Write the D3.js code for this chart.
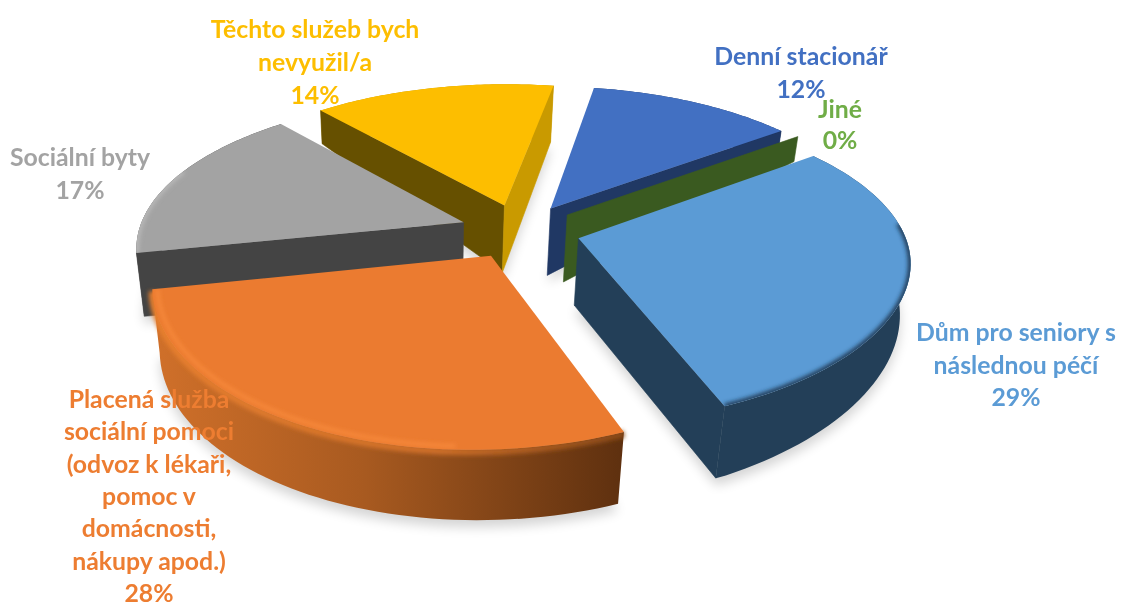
<!DOCTYPE html>
<html><head><meta charset="utf-8">
<script src="https://cdn.jsdelivr.net/npm/d3@7/dist/d3.min.js"></script>
<style>html,body{margin:0;padding:0;background:#fff;overflow:hidden}svg{display:block}text{font-family:Lato,"Open Sans",sans-serif;font-weight:700;font-size:24.8px;text-anchor:middle}</style>
</head><body><svg id="c" width="1121" height="608"></svg>
<script>
// --- data ---
const categories = ["Dům pro seniory s následnou péčí","Placená služba sociální pomoci (odvoz k lékaři, pomoc v domácnosti, nákupy apod.)","Sociální byty","Těchto služeb bych nevyužil/a","Denní stacionář","Jiné"];
const values = [29,28,17,14,12,0];
const labelLines = [["Dům pro seniory s","následnou péčí"],["Placená služba","sociální pomoci","(odvoz k lékaři,","pomoc v","domácnosti,","nákupy apod.)"],["Sociální byty"],["Těchto služeb bych","nevyužil/a"],["Denní stacionář"],["Jiné"]];
// --- styles ---
const topColors = ["#5B9BD5","#EB7B30","#A3A3A3","#FDBE00","#4270C2","#70AD47"];
const rimColors = ["#233F58","url(#orangeRim)","#444444","#C99A00","#203864","#3A5A20"];
const startWall = ["#233F58","#5f3310","#444444","#665000","#C99A00","#3A5A20"];
const endWall   = ["#233F58","#5f3310","#444444","#C99A00","#203864","#3A5A20"];
const bevels    = ["#1c3650","#f98c3c","#b9b9b9",null,null,null];
const bevelSpan = [[0.3,1],[0.25,1],[0,0.55],null,null,null];
const labelAnchors = [[1016,341],[149,408],[80,166],[315,38],[801,65],[840,118]];
const labelStep = [32.5,32.3,33,33,33,31];
// --- projection model ---
const cx=520, cy=231, R=325, k=0.451, persp=0.15, explode=0.185, apexDepth=67;
const frontShiftX=10, frontShiftY=9;
const rimDepth = d3.scaleLinear().domain([0,9,53,90,156,255,319,360]).range([51,57,25,50,72,65,33,51]);
const deg = r => ((r*180/Math.PI)%360+360)%360;
function project(X,Y,d){
  const s=1/(1-persp*Y), f=Math.max(Y,0)*Math.max(Y,0);
  const x=cx+R*X*s-frontShiftX*f, y=cy+R*k*Y*s+frontShiftY*f;
  return [x-(x-430)*0.00042*d, y+d];
}
const pie = d3.pie().sort(null).startAngle(53*Math.PI/180).endAngle(413*Math.PI/180);
const arcs = pie(values).map((a,i)=>({...a,i,mid:(a.startAngle+a.endAngle)/2}));
const line = d3.line();
const svg = d3.select("#c"), defs = svg.append("defs");
const g1=defs.append("linearGradient").attr("id","orangeRim");
g1.append("stop").attr("offset","0").attr("stop-color","#D0702A");
g1.append("stop").attr("offset","0.45").attr("stop-color","#A85A20");
g1.append("stop").attr("offset","1").attr("stop-color","#5E300F");
const g2=defs.append("linearGradient").attr("id","orangeLip");
g2.append("stop").attr("offset","0").attr("stop-color","#E8802F");
g2.append("stop").attr("offset","0.6").attr("stop-color","#D0702A");
g2.append("stop").attr("offset","1").attr("stop-color","#8A4A18");
[["b2",2],["b6",6]].forEach(([id,sd])=>defs.append("filter").attr("id",id).attr("x","-20%").attr("y","-20%").attr("width","140%").attr("height","140%").append("feGaussianBlur").attr("stdDeviation",sd));

function model(a){
  const ox=explode*Math.sin(a.mid), oy=-explode*Math.cos(a.mid);
  const pt=(t,r)=>[ox+r*Math.sin(t), oy-r*Math.cos(t)];
  const ts=d3.range(0,61).map(j=>a.startAngle+(a.endAngle-a.startAngle)*j/60);
  const top=ts.map(t=>{const p=pt(t,1);return project(p[0],p[1],0)});
  const bot=ts.map(t=>{const p=pt(t,1);return project(p[0],p[1],rimDepth(deg(t)))});
  const apexT=project(ox,oy,0), apexB=project(ox,oy,apexDepth);
  return {ox,oy,pt,ts,top,bot,apexT,apexB};
}
const order=arcs.slice().sort((p,q)=>(-Math.cos(p.mid))-(-Math.cos(q.mid)));
// shadows
const sh=svg.append("g").attr("filter","url(#b6)").attr("opacity",0.17);
order.forEach(a=>{const m=model(a);
  sh.append("path").attr("d",line([m.apexB,...m.bot])+"Z").attr("fill","#000").attr("transform","translate(0,7)");});

order.forEach(a=>{
  const m=model(a), i=a.i, g=svg.append("g");
  g.append("path").attr("d",line([...m.top,...m.bot.slice().reverse()])+"Z").attr("fill",rimColors[i]);
  // a cut wall shows only when it faces the viewer
  if(Math.sin(a.startAngle)<0) g.append("path").attr("d",line([m.apexT,m.top[0],m.bot[0],m.apexB])+"Z").attr("fill",startWall[i]).attr("stroke",startWall[i]).attr("stroke-width",.6);
  if(Math.sin(a.endAngle)>0) g.append("path").attr("d",line([m.apexT,m.top[60],m.bot[60],m.apexB])+"Z").attr("fill",endWall[i]).attr("stroke",endWall[i]).attr("stroke-width",.6);
  if(a.endAngle>a.startAngle){
    const d=line([m.apexT,...m.top])+"Z";
    if(bevels[i]&&i===1){
      g.append("path").attr("d",line(m.top.map(p=>[p[0],p[1]+2]))).attr("fill","none").attr("stroke","url(#orangeLip)").attr("stroke-width",7).attr("filter","url(#b2)");
    }
    g.append("path").attr("d",d).attr("fill",topColors[i]);
    if(bevels[i]){
      defs.append("clipPath").attr("id","clip"+i).append("path").attr("d",d);
      const inset = i===1?0.985:1;
      const n=m.ts.length-1, span=bevelSpan[i];
      const arcLine=m.ts.slice(Math.round(span[0]*n),Math.round(span[1]*n)+1).map(t=>{const p=m.pt(t,inset);return project(p[0],p[1],0)});
      g.append("g").attr("clip-path",`url(#clip${i})`).append("path").attr("d",line(arcLine)).attr("fill","none")
       .attr("stroke",bevels[i]).attr("stroke-width",i===1?3:5).attr("filter","url(#b2)");
    }
  }
});
// labels
const lab=svg.append("g");
arcs.forEach(a=>{
  const i=a.i, [x,y]=labelAnchors[i];
  const t=lab.append("text").attr("fill",topColors[i]==="#EB7B30"?"#ED7D31":topColors[i]);
  [...labelLines[i],d3.format(".0f")(a.value)+"%"].forEach((s,j)=>t.append("tspan").attr("x",x).attr("y",y+j*labelStep[i]).text(s));
});
</script></body></html>
